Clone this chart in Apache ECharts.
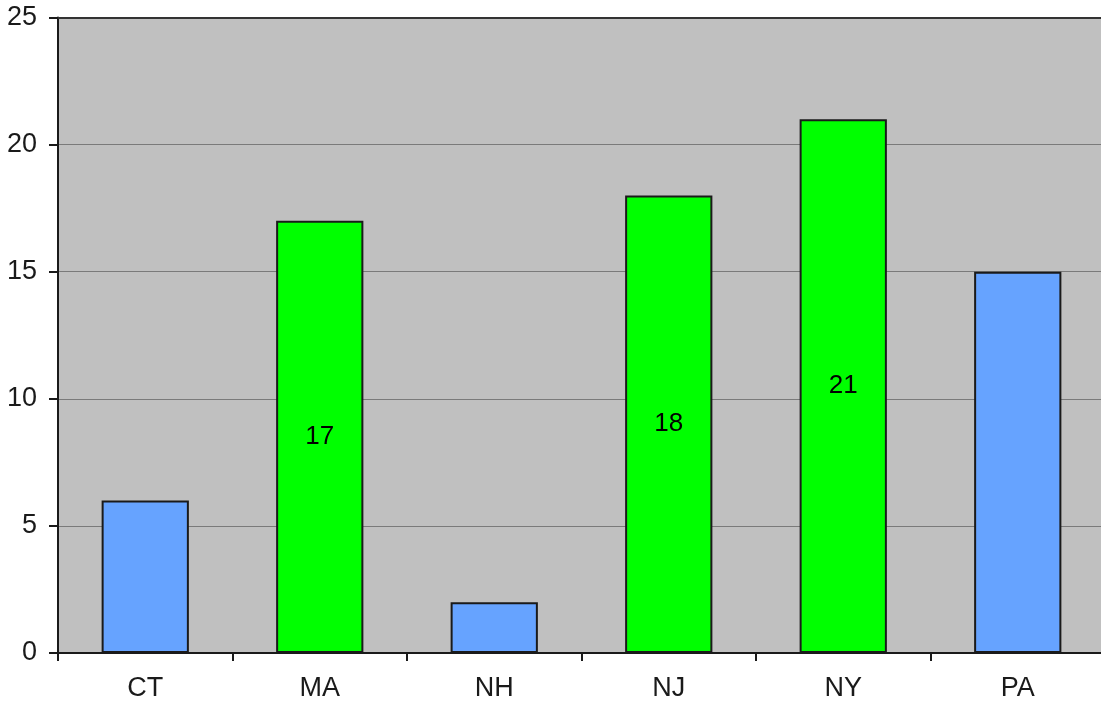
<!DOCTYPE html>
<html>
<head>
<meta charset="utf-8">
<script src="https://cdn.jsdelivr.net/npm/echarts@6/dist/echarts.min.js"></script>
<style>html,body{margin:0;padding:0;background:#fff}#c{width:1101px;height:702px}</style>
</head>
<body>
<div id="c"></div>
<script>
const categories = ['CT', 'MA', 'NH', 'NJ', 'NY', 'PA'];
const values = [6, 17, 2, 18, 21, 15];
const highlighted = ['MA', 'NJ', 'NY'];
const yTicks = [0, 5, 10, 15, 20, 25];

const chart = echarts.init(document.getElementById('c'), null, {renderer: 'canvas'});
const font = 'Liberation Sans, Arial, sans-serif';
const data = categories.map((c, i) => {
  const hi = highlighted.includes(c);
  return {
    value: values[i],
    itemStyle: {color: hi ? '#00FF00' : '#66A3FF'},
    label: {show: hi}
  };
});
chart.setOption({
  animation: false,
  backgroundColor: '#ffffff',
  grid: {left: 58, width: 1047, top: 17.5, bottom: 49, show: true, backgroundColor: '#C0C0C0', borderWidth: 0, outerBoundsMode: 'none', containLabel: false},
  xAxis: {
    type: 'category',
    data: categories,
    axisLine: {lineStyle: {color: '#1a1a1a', width: 2}},
    axisTick: {show: true, length: 8, alignWithLabel: false, lineStyle: {color: '#1a1a1a', width: 2}},
    axisLabel: {color: '#1a1a1a', fontSize: 27, fontFamily: font, margin: 22},
    splitLine: {show: false}
  },
  yAxis: {
    type: 'value',
    min: yTicks[0],
    max: yTicks[yTicks.length - 1],
    interval: 5,
    axisLine: {show: true, lineStyle: {color: '#1a1a1a', width: 2}},
    axisTick: {show: true, length: 9, lineStyle: {color: '#1a1a1a', width: 2}},
    axisLabel: {color: '#1a1a1a', fontSize: 27, fontFamily: font, margin: 21},
    splitLine: {show: true, lineStyle: {color: ['#1a1a1a', '#7a7a7a', '#7a7a7a', '#7a7a7a', '#7a7a7a', '#333333'], width: 1}}
  },
  series: [{
    type: 'bar',
    data: data,
    barWidth: '50%',
    itemStyle: {borderColor: '#1a1a1a', borderWidth: 2},
    label: {position: 'inside', color: '#000', fontSize: 26, fontFamily: font},
    markLine: {
      silent: true, symbol: 'none', label: {show: false},
      lineStyle: {color: '#333333', width: 2, type: 'solid'},
      data: [{yAxis: yTicks[yTicks.length - 1]}]
    }
  }]
});
</script>
</body>
</html>
